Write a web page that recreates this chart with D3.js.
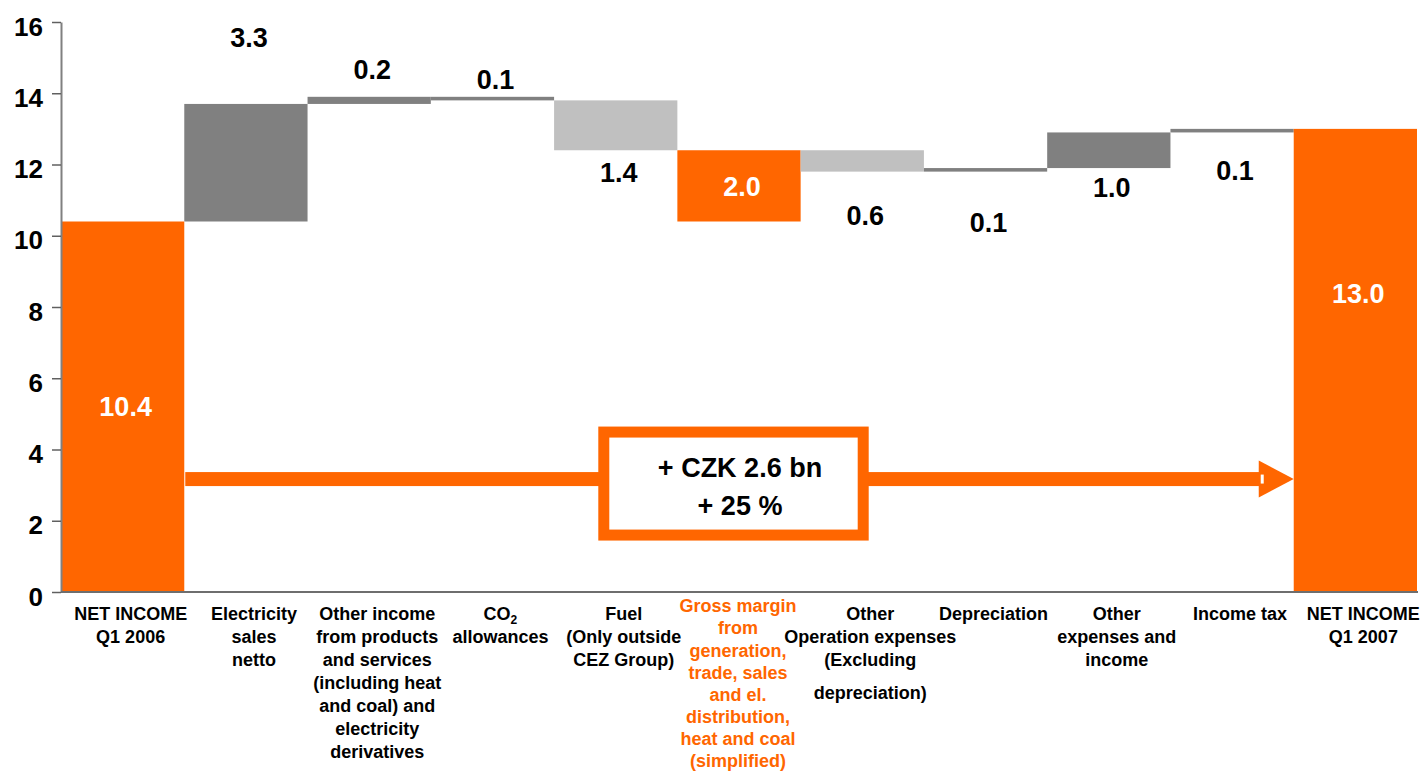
<!DOCTYPE html>
<html>
<head>
<meta charset="utf-8">
<script src="https://cdn.jsdelivr.net/npm/d3@7"></script>
<style>
  body { margin: 0; background: #fff; }
  svg text { font-family: "Liberation Sans", Arial, sans-serif; font-weight: bold; }
</style>
</head>
<body>
<div id="chart"></div>
<script>
// data
var categories = [
    ["NET INCOME", "Q1 2006"],
    ["Electricity", "sales", "netto"],
    ["Other income", "from products", "and services", "(including heat", "and coal) and", "electricity", "derivatives"],
    ["CO2", "allowances"],
    ["Fuel", "(Only outside", "CEZ Group)"],
    ["Gross margin", "from", "generation,", "trade, sales", "and el.", "distribution,", "heat and coal", "(simplified)"],
    ["Other", "Operation expenses", "(Excluding", "", "depreciation)"],
    ["Depreciation"],
    ["Other", "expenses and", "income"],
    ["Income tax"],
    ["NET INCOME", "Q1 2007"]
];
var kinds = ["total", "delta", "delta", "delta", "delta", "margin", "delta", "delta", "delta", "delta", "total"];
var values = [10.4, 3.3, 0.2, -0.1, -1.4, 2.0, -0.6, 0.1, 1.0, 0.1, 13.0];
var yTicks = [0, 2, 4, 6, 8, 10, 12, 14, 16];
var calloutLines = ["+ CZK 2.6 bn", "+ 25 %"];

// look
var ORANGE = "#ff6600", DARK = "#808080", LIGHT = "#c0c0c0";
var barColors = [ORANGE, DARK, DARK, DARK, LIGHT, ORANGE, LIGHT, DARK, DARK, DARK, ORANGE];
// label placement: "in" = middle of bar, "top"/"bottom" = edge + pixel offset
var labelPlace = ["in", "top", "top", "top", "bottom", "in", "bottom", "bottom", "bottom", "bottom", "in"];
var labelOffset = [0, -67, -28, -18, 22, 0, 44, 51, 19, 38, -67];

var WIDTH = 1425, HEIGHT = 772;

var svg = d3.select("#chart").append("svg")
    .attr("width", WIDTH)
    .attr("height", HEIGHT);

var x = d3.scaleBand().domain(d3.range(categories.length)).range([61, 1417]).padding(0);
var y = d3.scaleLinear().domain([0, 16]).range([592, 22]);

// running totals -> bar start/end
var bars = [];
var run = 0, base = 0;
values.forEach(function (v, i) {
    var lo, hi;
    if (kinds[i] === "total") {
        lo = 0; hi = v; run = v; base = v;
    } else if (kinds[i] === "margin") {
        lo = base; hi = base + v;
    } else {
        lo = run; hi = run + v; run = hi;
    }
    bars.push({ i: i, v: v, y0: Math.min(lo, hi), y1: Math.max(lo, hi) });
});

svg.append("g").selectAll("rect")
    .data(bars).enter()
    .append("rect")
    .attr("x", function (d) { return x(d.i); })
    .attr("width", x.bandwidth())
    .attr("y", function (d) { return y(d.y1); })
    .attr("height", function (d) { return y(d.y0) - y(d.y1); })
    .attr("fill", function (d) { return barColors[d.i]; });

// value labels
svg.append("g").selectAll("text")
    .data(bars).enter()
    .append("text")
    .attr("x", function (d) { return x(d.i) + x.bandwidth() / 2 + 3; })
    .attr("y", function (d) {
        var p = labelPlace[d.i];
        if (p === "top") return y(d.y1) + labelOffset[d.i];
        if (p === "bottom") return y(d.y0) + labelOffset[d.i];
        return (y(d.y0) + y(d.y1)) / 2 + labelOffset[d.i];
    })
    .attr("dy", "0.36em")
    .attr("text-anchor", "middle")
    .style("font-size", "27px")
    .style("fill", function (d) { return labelPlace[d.i] === "in" ? "#fff" : "#000"; })
    .text(function (d) { return Math.abs(d.v).toFixed(1); });

// y axis
var yAxis = svg.append("g")
    .attr("transform", "translate(61,0)")
    .call(d3.axisLeft(y).tickValues(yTicks).tickSize(9).tickSizeOuter(0).tickPadding(9));
yAxis.select(".domain").attr("stroke", "#808080").attr("stroke-width", 2);
yAxis.selectAll(".tick line").attr("stroke", "#606060").attr("stroke-width", 1.5);
yAxis.selectAll(".tick text")
    .attr("dy", "0.5em")
    .style("font-size", "26px")
    .style("fill", "#000");

// x axis base line
svg.append("line")
    .attr("x1", 61).attr("x2", 1418)
    .attr("y1", y(0)).attr("y2", y(0))
    .attr("stroke", "#6e6e6e")
    .attr("stroke-width", 2);

// category labels
var cat = svg.append("g").selectAll("text")
    .data(categories).enter()
    .append("text")
    .attr("text-anchor", "middle")
    .style("font-size", "18px")
    .style("fill", function (d, i) { return kinds[i] === "margin" ? ORANGE : "#000"; })
    .attr("transform", function (d, i) {
        var m = kinds[i] === "margin";
        var cx = x(i) + x.bandwidth() / 2 + (m ? -1 : 8);
        return "translate(" + cx + "," + (m ? 606 : 614) + ")";
    });

cat.each(function (lines, i) {
    var t = d3.select(this);
    var LINE = kinds[i] === "margin" ? 22.1 : 22.9;
    var dy = 0, pending = 0;
    lines.forEach(function (line, k) {
        if (line === "") { pending = LINE * 0.45; return; }
        var yy = k === 0 ? 0 : dy + LINE + pending;
        dy = yy; pending = 0;
        var ts = t.append("tspan").attr("x", 0).attr("y", yy).attr("dy", "0.35em");
        if (line === "CO2") {
            ts.text("CO");
            t.append("tspan").attr("dy", "0.3em").style("font-size", "12px").text("2");
        } else {
            ts.text(line);
        }
    });
});

// growth arrow
var arrowY = y(3.17);
var arrowX0 = x(0) + x.bandwidth() + 1;
var arrowTip = x(categories.length - 1);
var arrow = svg.append("g");
arrow.append("rect")
    .attr("x", arrowX0).attr("y", arrowY - 7)
    .attr("width", arrowTip - 35 - arrowX0 + 2).attr("height", 14)
    .attr("fill", ORANGE);
arrow.append("path")
    .attr("d", "M" + (arrowTip - 35) + "," + (arrowY - 18.5) +
        "L" + arrowTip + "," + arrowY +
        "L" + (arrowTip - 35) + "," + (arrowY + 18.5) + "Z")
    .attr("fill", ORANGE);
arrow.append("rect")
    .attr("x", arrowTip - 33).attr("y", arrowY - 4.5)
    .attr("width", 3).attr("height", 9)
    .attr("fill", "#fff");

// callout box
var boxCx = (arrowX0 + arrowTip) / 2 - 6;
var boxCy = arrowY + 4.5;
svg.append("rect")
    .attr("x", boxCx - 129.7).attr("y", boxCy - 51.5)
    .attr("width", 259.4).attr("height", 103)
    .attr("fill", "#fff")
    .attr("stroke", ORANGE)
    .attr("stroke-width", 11);

svg.append("g").selectAll("text")
    .data(calloutLines).enter()
    .append("text")
    .attr("x", boxCx + 6.5)
    .attr("y", function (d, i) { return boxCy - 16 + i * 38; })
    .attr("dy", "0.36em")
    .attr("text-anchor", "middle")
    .style("font-size", "27px")
    .style("fill", "#000")
    .text(function (d) { return d; });
</script>
</body>
</html>
